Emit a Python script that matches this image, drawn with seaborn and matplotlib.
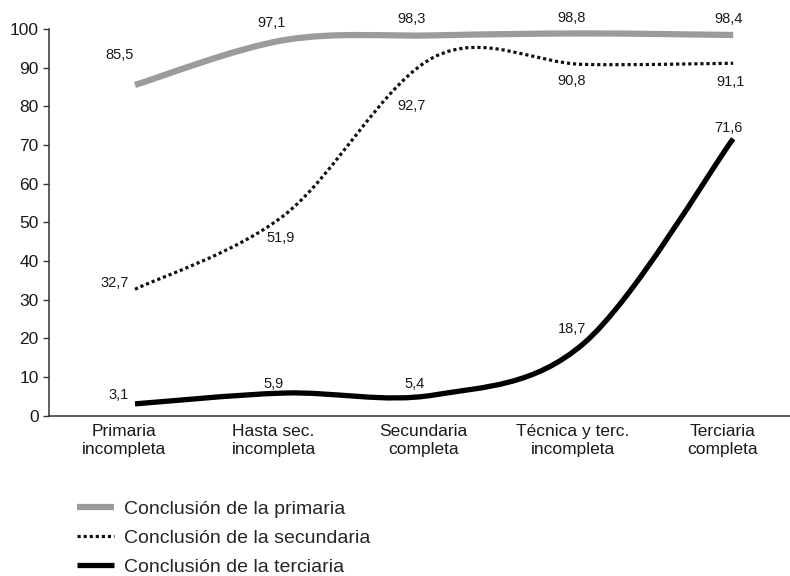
import numpy as np
import pandas as pd
import matplotlib.pyplot as plt
import matplotlib.transforms as mtransforms
import seaborn as sns
from matplotlib.path import Path
from matplotlib.patches import PathPatch
from matplotlib.lines import Line2D

# Datos
categorias = ["Primaria\nincompleta", "Hasta sec.\nincompleta", "Secundaria\ncompleta",
              "Técnica y terc.\nincompleta", "Terciaria\ncompleta"]
primaria = [85.5, 97.1, 98.3, 98.8, 98.4]
secundaria = [32.7, 51.9, 92.7, 90.8, 91.1]
terciaria = [3.1, 5.9, 5.4, 18.7, 71.6]
nombres = ["Conclusión de la primaria", "Conclusión de la secundaria", "Conclusión de la terciaria"]

sns.set_style("ticks")
plt.rcParams['font.family'] = ['Liberation Sans', 'DejaVu Sans']
TXT = '#1a1a1a'


def suavizar(xs, ys):
    # curva Bezier tipo "linea suavizada" de Excel que pasa por cada punto
    p = np.column_stack([xs, ys]).astype(float)
    ext = np.vstack([p[0], p, p[-1]])
    verts = [p[0]]
    codes = [Path.MOVETO]
    for i in range(len(p) - 1):
        c1 = ext[i + 1] + (ext[i + 2] - ext[i]) / 6
        c2 = ext[i + 2] - (ext[i + 3] - ext[i + 1]) / 6
        verts += [c1, c2, ext[i + 2]]
        codes += [Path.CURVE4] * 3
    return Path(verts, codes)


df = pd.DataFrame({"x": range(len(categorias)), "primaria": primaria,
                   "secundaria": secundaria, "terciaria": terciaria})

estilos = [
    dict(color='#9b9b9b', lw=4.5, ls='-'),
    dict(color='#111111', lw=2.3, ls=(0, (1, 0.9))),
    dict(color='#000000', lw=3.8, ls='-'),
]
# desplazamientos de las etiquetas (pixeles)
offs = [
    [(-15, 30), (-13, 17), (-23, 16), (-12, 15), (-5, 16)],
    [(-20, 6), (-4, -23), (-23, -49), (-12, -17), (-3, -19)],
    [(-16, 9), (-11, 9), (-19, 11), (-12, 14), (-5, 11)],
]

fig = plt.figure(figsize=(7.9, 5.76), dpi=100)
ax = fig.add_axes([0.062, 0.278, 0.938, 0.672])

handles = []
for col, st, off, nom in zip(["primaria", "secundaria", "terciaria"], estilos, offs, nombres):
    patch = PathPatch(suavizar(df["x"], df[col]), facecolor='none', edgecolor=st['color'],
                      lw=st['lw'], ls=st['ls'], capstyle='butt', joinstyle='round')
    ax.add_patch(patch)
    for x, y, o in zip(df["x"], df[col], off):
        ax.annotate(f"{y:.1f}".replace('.', ','), (x, y), xytext=o, textcoords='offset pixels',
                    ha='center', va='center', fontsize=10.5, color=TXT)
    handles.append(Line2D([], [], color=st['color'], lw=st['lw'], ls=st['ls'],
                          solid_capstyle='butt', dash_capstyle='butt', label=nom))

ax.set_xlim(-0.575, 4.38)
ax.set_ylim(0, 100)
ax.set_yticks(range(0, 101, 10))
ax.set_xticks(df["x"])
ax.set_xticklabels(categorias, fontsize=12.5, color=TXT, linespacing=1.2)
ax.tick_params(axis='y', labelsize=12.5, labelcolor=TXT, length=4.5, width=1, color='#333333', pad=3)
ax.tick_params(axis='x', length=0, pad=6)
shift = mtransforms.ScaledTranslation(-11 / 100, 0, fig.dpi_scale_trans)
for lab in ax.get_xticklabels():
    lab.set_transform(lab.get_transform() + shift)
sns.despine(ax=ax)
for s in ['left', 'bottom']:
    ax.spines[s].set_color('#333333')
    ax.spines[s].set_linewidth(1.1)

fig.legend(handles=handles, loc='upper left', bbox_to_anchor=(77 / 790, 1 - 500 / 576),
           frameon=False, fontsize=14, handlelength=1.9, handletextpad=0.5,
           labelspacing=0.6, borderpad=0, borderaxespad=0)

fig.savefig("out.png", dpi=100)
